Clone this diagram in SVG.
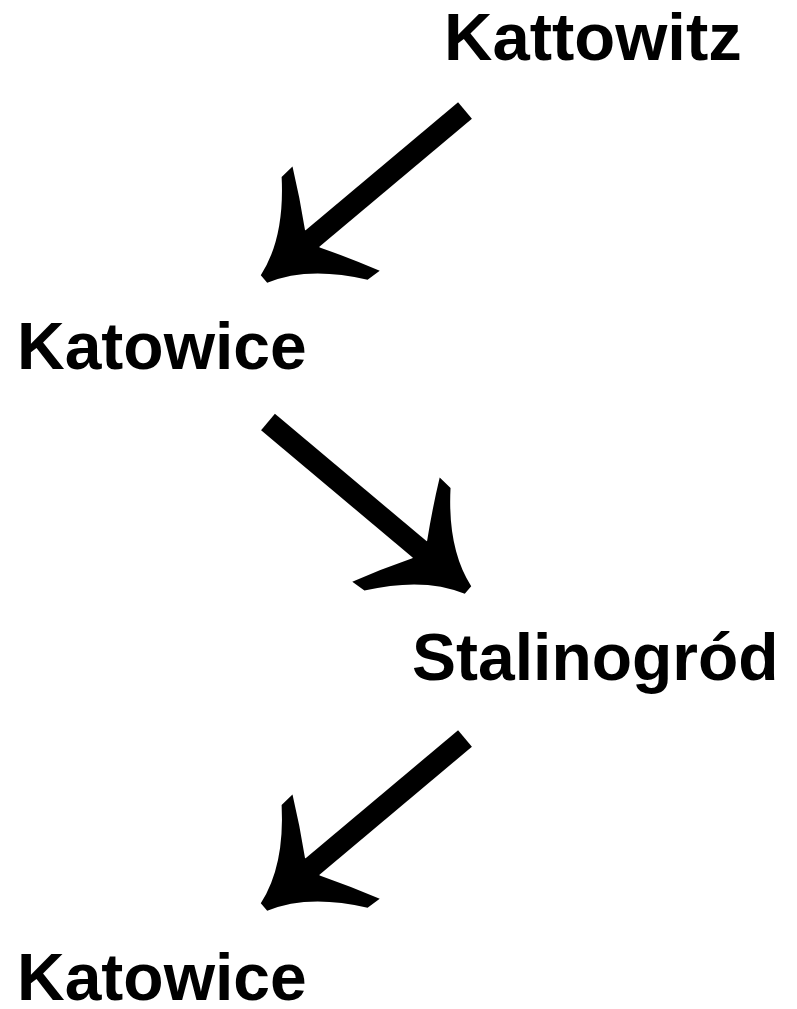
<svg xmlns="http://www.w3.org/2000/svg" xmlns:xlink="http://www.w3.org/1999/xlink" width="797" height="1009" viewBox="0 0 797 1009">
<style>
.lbl{font-family:"Liberation Sans",Arial,sans-serif;font-weight:bold;font-size:66px;fill:#000}
.shaft{stroke:#000;stroke-width:21.5;stroke-linecap:butt;fill:none}
.head{fill:#000}
</style>
<defs>
<path id="head" class="head" d="M0,-5 Q-42,-18 -79,-67 L-94,-68 Q-80,-40 -63,-11.5 L-63,11.5 Q-80,40 -94,68 L-79,67 Q-42,18 0,5 Z"/>
</defs>
<rect width="797" height="1009" fill="#fff"/>
<g id="n1"><text class="lbl" x="444" y="60" style="font-size:67px">Kattowitz</text></g>
<g id="n2"><text class="lbl" x="17" y="369">Katowice</text></g>
<g id="n3"><text class="lbl" x="412" y="680">Stalinogród</text></g>
<g id="n4"><text class="lbl" x="17" y="1000">Katowice</text></g>
<g id="connectors">
<g id="e1">
<line class="shaft" x1="465" y1="110.5" x2="294.7" y2="253.4"/>
<use xlink:href="#head" transform="translate(264,279) rotate(140.1)"/>
</g>
<g id="e2">
<line class="shaft" x1="268" y1="422" x2="437.4" y2="564.3"/>
<use xlink:href="#head" transform="translate(468,590) rotate(40)"/>
</g>
<g id="e3">
<line class="shaft" x1="465" y1="738.5" x2="294.7" y2="881.4"/>
<use xlink:href="#head" transform="translate(264,907) rotate(140.1)"/>
</g>
</g>
</svg>
